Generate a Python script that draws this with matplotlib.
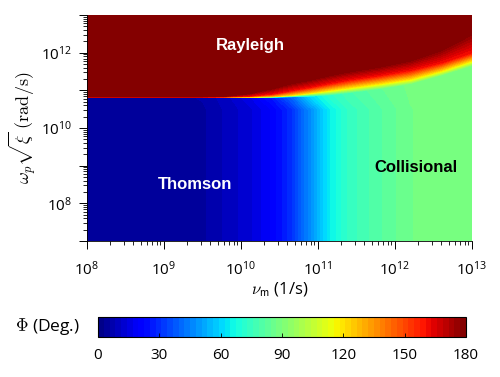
import numpy as np
import matplotlib
matplotlib.use("Agg")
import matplotlib.pyplot as plt
from matplotlib.ticker import FixedLocator, FuncFormatter

plt.rcParams['font.family'] = ['Open Sans', 'DejaVu Sans']
plt.rcParams['mathtext.fontset'] = 'custom'
plt.rcParams['mathtext.rm'] = 'Open Sans'
plt.rcParams['mathtext.it'] = 'Open Sans:italic'
plt.rcParams['mathtext.bf'] = 'Open Sans:bold'

# ── valores (unidades log10) ─────────────────────────────────────
nu_log = [8.0, 9.0, 9.5, 9.8, 10.1, 10.4, 10.65, 10.9, 11.15, 11.4, 11.8, 12.2, 12.6, 13.0]

# fase en la parte baja (Thomson -> colisional)
phi_bottom = [3, 3, 5, 9, 13, 20, 30, 47, 64, 74, 81, 87, 89, 90]
# fase justo debajo de la frontera con Rayleigh
phi_edge   = [3, 4, 6, 10, 16, 26, 40, 60, 72, 78, 84, 88, 89, 90]

# posición (log10 w) de la banda de transición hacia Rayleigh
y_edge   = [10.81, 10.81, 10.81, 10.81, 10.81, 10.81, 10.82, 10.84, 10.87, 10.93, 11.04, 11.17, 11.40, 11.66]
y_yellow = [10.815, 10.815, 10.815, 10.815, 10.82, 10.83, 10.87, 10.93, 11.00, 11.07, 11.18, 11.30, 11.52, 11.79]
y_red    = [10.82, 10.82, 10.82, 10.825, 10.845, 10.9, 10.99, 11.08, 11.18, 11.27, 11.39, 11.53, 11.73, 12.00]
y_top    = [10.83, 10.83, 10.83, 10.85, 10.92, 11.06, 11.2, 11.3, 11.42, 11.52, 11.65, 11.82, 12.1, 12.55]

phi_yellow = 120
phi_red = 160
phi_max = 180

x_range = (8, 13)
y_range = (7, 13)

# ── malla curvilínea ──────────────────────────────────────────────
n = len(nu_log)
X = np.tile(nu_log, (7, 1))
Y = np.vstack([np.full(n, 7.0), np.full(n, 10.5), y_edge, y_yellow, y_red, y_top, np.full(n, 13.0)])
Z = np.vstack([phi_bottom, phi_bottom, phi_edge,
               np.full(n, phi_yellow), np.full(n, phi_red),
               np.full(n, phi_max), np.full(n, phi_max)])

# ── Plot ──────────────────────────────────────────────────────────
fig = plt.figure(figsize=(5.0, 3.77), dpi=100)
ax = fig.add_axes([0.174, 0.361, 0.770, 0.599])

levels = np.linspace(0, 180, 65)
cs = ax.contourf(X, Y, Z, levels=levels, cmap='jet', antialiased=False)

ax.set_xlim(*x_range)
ax.set_ylim(*y_range)

def minors(lo, hi):
    return [d + np.log10(k) for d in range(lo, hi) for k in range(2, 10)]

ax.xaxis.set_major_locator(FixedLocator(range(8, 14)))
ax.xaxis.set_minor_locator(FixedLocator(minors(8, 13)))
ax.yaxis.set_major_locator(FixedLocator(range(7, 14)))
ax.yaxis.set_minor_locator(FixedLocator(minors(7, 13)))
ax.xaxis.set_major_formatter(FuncFormatter(lambda v, p: r'$10^{%d}$' % round(v)))
ax.yaxis.set_major_formatter(FuncFormatter(
    lambda v, p: r'$10^{%d}$' % round(v) if round(v) % 2 == 0 else ''))

ax.tick_params(which='major', direction='out', length=6, width=0.7, labelsize=11, pad=5)
ax.tick_params(axis='x', which='major', pad=8)
ax.tick_params(which='minor', direction='out', length=3, width=0.6)
for s in ['top', 'right']:
    ax.spines[s].set_visible(False)
for s in ['left', 'bottom']:
    ax.spines[s].set_linewidth(0.6)

ax.set_xlabel(r'$\nu_{\mathsf{m}}$ (1/s)', fontsize=12, math_fontfamily='cm', labelpad=1)
ax.set_ylabel(r'$\omega_p\sqrt{\xi}\ (\mathrm{rad/s})$', fontsize=13, math_fontfamily='cm', labelpad=2)

lab = dict(fontsize=12, fontweight='bold', family='Liberation Sans', ha='center', va='center')
ax.text(10.12, 12.18, 'Rayleigh', color='white', **lab)
ax.text(9.4, 8.5, 'Thomson', color='white', **lab)
ax.text(12.27, 8.95, 'Collisional', color='black', **lab)

# ── barra de color ───────────────────────────────────────────────
cax = fig.add_axes([0.196, 0.106, 0.736, 0.053])
cb = fig.colorbar(cs, cax=cax, orientation='horizontal', ticks=range(0, 181, 30))
cb.outline.set_linewidth(0.8)
cax.tick_params(direction='in', length=3, width=0.6, labelsize=11, pad=8)
fig.text(0.03, 0.133, r'$\Phi$ (Deg.)', fontsize=12.5, math_fontfamily='cm', va='center', ha='left')

plt.savefig("out.png", dpi=100)
